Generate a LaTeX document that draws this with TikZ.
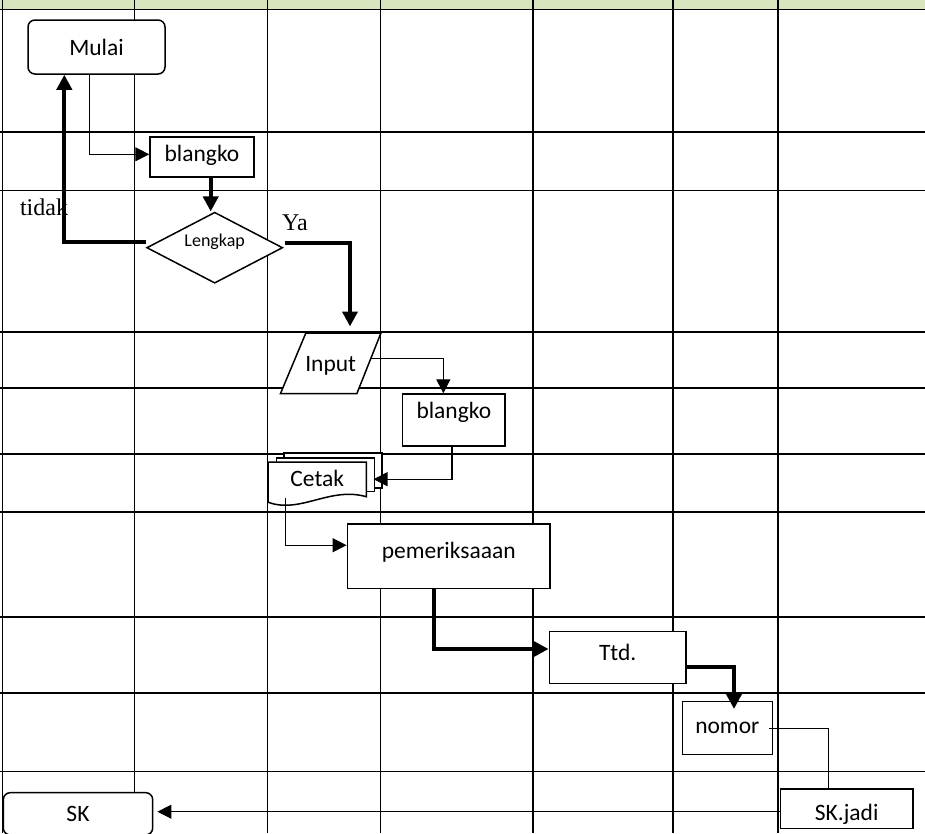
\documentclass[tikz,border=0pt]{standalone}
\usepackage{fontspec}
\setmainfont{Carlito}
\newfontfamily\serifface{Liberation Serif}
\usetikzlibrary{arrows.meta,shapes.geometric,calc}
\pgfdeclarelayer{gridlayer}
\pgfdeclarelayer{stacklayer}
\pgfsetlayers{gridlayer,stacklayer,main}
\definecolor{headgreen}{RGB}{216,228,188}

\begin{document}
\begin{tikzpicture}[x=1pt,y=-1pt,
  gridline/.style={line width=1.2pt,black},
  boxtext/.style={inner sep=0pt,font=\fontsize{23.5}{26}\selectfont},
  box/.style={boxtext,draw,fill=white,line width=1.5pt},
  roundbox/.style={box,rounded corners=7pt},
  outline/.style={draw,fill=white,line width=1.5pt},
  bl/.style={text height=#1,text depth=0pt},
  bd/.style={text height=0pt,text depth=#1},
  thinline/.style={line width=1.3pt},
  thickline/.style={line width=3.8pt},
  thintip/.style={-{Triangle[length=14pt,width=14pt]}},
  thicktip/.style={-{Triangle[length=15pt,width=15pt]}},
  answer/.style={font=\serifface\fontsize{24}{28}\selectfont,inner sep=0pt}]

\useasboundingbox (0,0) rectangle (925,833);

% swimlane table
\begin{pgfonlayer}{gridlayer}
  \fill[white] (0,0) rectangle (925,833);
  \fill[headgreen] (0,0) rectangle (925,9.5);
  \foreach \gx in {2.5,134.5,267.5,380.5,533,673,778}
    \draw[gridline] (\gx,0) -- (\gx,833);
  \foreach \gy in {9.5,132,190.5,332,388,454,512,617,693,771.5}
    \draw[gridline] (0,\gy) -- (925,\gy);
\end{pgfonlayer}

% process nodes
\node[roundbox,minimum width=137pt,minimum height=54pt,bl=16pt] (mulai) at (96.5,47) {Mulai};
\node[box,minimum width=104pt,minimum height=40pt,bl=9.4pt] (blangko1) at (202,157) {blangko};
\node[box,diamond,minimum width=136pt,minimum height=71pt,bd=2pt,
  font=\fontsize{18}{20}\selectfont] (lengkap) at (214.7,247.7) {Lengkap};
\node[boxtext,minimum width=100pt,minimum height=60pt,bl=15.4pt] (input) at (330.7,363.3) {Input};
\node[box,minimum width=102.3pt,minimum height=52pt,bd=3.4pt] (blangko2) at (453.85,420) {blangko};
\node[boxtext,minimum width=97.7pt,minimum height=37.8pt,bl=9.6pt] (cetak) at (317.2,481.2) {Cetak};
\node[box,minimum width=202.7pt,minimum height=64.3pt,bl=4.6pt] (pem) at (448.7,556.2) {pemeriksaaan};
\node[box,minimum width=136.7pt,minimum height=51.6pt,bl=6.4pt] (ttd) at (617.7,657.5) {Ttd.};
\node[box,minimum width=90pt,minimum height=52.6pt,bl=10.6pt] (nomor) at (727.3,728) {nomor};
\node[box,minimum width=132.3pt,minimum height=39.3pt,bl=22.6pt] (skjadi) at (846.7,808.7) {SK.jadi};
\node[roundbox,minimum width=149.4pt,minimum height=42.3pt,bl=15.8pt] (sk) at (78,813.8) {SK};

% outlines drawn under their texts: input parallelogram and stacked print pages
\begin{pgfonlayer}{stacklayer}
  \draw[outline] ($(input.north west)+(25.3,0)$) -- (input.north east)
    -- ($(input.south east)+(-24,0)$) -- (input.south west) -- cycle;
  \draw[outline] ($(cetak.north west)+(16,-9)$) rectangle ($(cetak.north east)+(15.7,26)$);
  \draw[outline] ($(cetak.north west)+(8.4,-4)$) rectangle ($(cetak.north east)+(8,29.4)$);
  \draw[outline] (cetak.north west) -- (cetak.north east) -- ($(cetak.east)+(0,15.5)$)
    .. controls ($(cetak.south)+(12.8,-14.1)$) and ($(cetak.south)+(-17.2,13.9)$)
    .. ($(cetak.south west)+(0,1.9)$) -- cycle;
\end{pgfonlayer}

% decision labels
\node[answer] (tidaklbl) at (44,207) {tidak};
\node[answer] (yalbl) at (295,223) {Ya};

% connectors
\draw[thinline,thintip] ($(mulai.south)+(-7.2,0)$) |- ($(blangko1.west)+(0,-2.7)$);
\draw[thickline,thicktip] ($(blangko1.south)+(8.7,0)$) -- ($(blangko1.south |- lengkap.north)+(8.7,0)$);
\draw[thickline,thicktip] ($(lengkap.west)+(0,-6)$) -| ($(mulai.south)+(-32.2,0)$);
\draw[thickline,thicktip,shorten >=6.6pt] ($(lengkap.east)+(2,-5)$) -| ($(input.north)+(19.3,0)$);
\draw[thinline,thintip] ($(input.center)+(40,-5)$) -| ($(blangko2.north)+(-10.5,0)$);
\draw[thinline,thintip] ($(blangko2.south)+(-2,0)$) |- ($(cetak.east)+(7.3,-2)$);
\draw[thinline,thintip] ($(cetak.south)+(-31.5,-2)$) |- ($(pem.west)+(0,-11)$);
\draw[thickline,thicktip] ($(pem.south)+(-14.7,0)$) |- ($(ttd.west)+(0,-8.5)$);
\draw[thickline,thicktip,shorten >=-8pt] ($(ttd.east)+(0,9.2)$) -| ($(nomor.north)+(6.7,0)$);
\draw[thinline] ($(nomor.east)+(-4,0.3)$) -| ($(skjadi.north)+(-18.4,0)$);
\draw[thinline,thintip] ($(skjadi.west)+(0,3)$) -- ($(sk.east |- skjadi.west)+(4,3)$);

\end{tikzpicture}
\end{document}
